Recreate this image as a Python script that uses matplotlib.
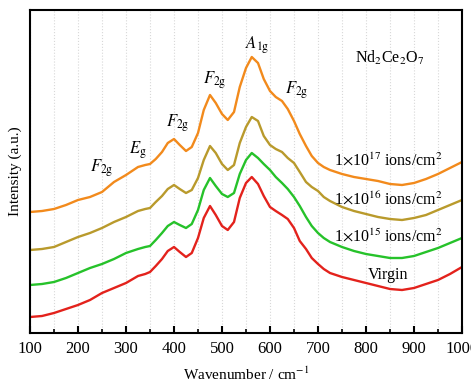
import matplotlib
matplotlib.use('Agg')
import matplotlib.pyplot as plt
from matplotlib.ticker import MultipleLocator

plt.rcParams['font.family'] = 'Liberation Serif'
plt.rcParams['mathtext.fontset'] = 'stix'

# Raman shift (cm-1) and intensities (arbitrary units)
wavenumber = [100, 125, 150, 175, 200, 225, 250, 275, 300, 325,
              340, 350, 362, 375, 387, 400, 412, 425, 437, 450,
              462, 475, 487, 500, 512, 525, 537, 550, 562, 575,
              587, 600, 612, 625, 637, 650, 662, 675, 687, 700,
              712, 725, 750, 775, 800, 825, 850, 875, 900, 925,
              950, 975, 1000]

virgin = [16, 17, 20, 24, 28, 33, 40, 45, 50, 57,
          59, 61, 67, 74, 82, 86, 81, 76, 80, 95,
          115, 127, 118, 107, 103, 111, 135, 150, 156, 149,
          137, 126, 122, 118, 114, 105, 92, 84, 75, 69,
          64, 60, 56, 53, 50, 47, 44, 43, 45, 49,
          53, 59, 66]
e15 = [48, 49, 51, 55, 60, 65, 69, 74, 80, 84,
       86, 87, 93, 100, 107, 111, 108, 105, 109, 123,
       143, 155, 147, 139, 136, 140, 159, 173, 180, 175,
       169, 163, 156, 150, 144, 136, 127, 116, 107, 100,
       95, 91, 86, 82, 79, 77, 75, 75, 77, 81,
       85, 90, 95]
e16 = [83, 84, 86, 91, 96, 100, 105, 111, 116, 122,
       124, 125, 131, 137, 144, 148, 144, 140, 143, 155,
       173, 187, 180, 169, 163, 168, 190, 206, 216, 212,
       197, 188, 184, 181, 175, 170, 161, 151, 146, 142,
       136, 132, 126, 122, 119, 116, 114, 113, 115, 118,
       123, 128, 133]
e17 = [121, 122, 124, 128, 133, 136, 141, 151, 158, 166,
       168, 169, 174, 181, 190, 194, 188, 182, 186, 200,
       223, 238, 230, 219, 213, 221, 246, 265, 276, 270,
       254, 242, 236, 232, 224, 212, 199, 187, 177, 170,
       166, 163, 159, 156, 154, 152, 149, 148, 150, 154,
       159, 165, 171]

series = [virgin, e15, e16, e17]
colors = ['#e3221c', '#26c22a', '#b99a2c', '#f28a1c']
labels = ['Virgin', r'1$\times$10$^{15}$ ions/cm$^{2}$',
          r'1$\times$10$^{16}$ ions/cm$^{2}$', r'1$\times$10$^{17}$ ions/cm$^{2}$']
label_y = [58, 96, 133, 172]

peak_text = [r'$F_{\rm 2g}$', r'$E_{\rm g}$', r'$F_{\rm 2g}$', r'$F_{\rm 2g}$',
             r'$A_{\rm 1g}$', r'$F_{\rm 2g}$']
peak_x = [250, 325, 408, 485, 573, 656]
peak_y = [165, 183, 210, 253, 288, 243]

fig = plt.figure(figsize=(4.71, 3.83), dpi=100)
ax = fig.add_axes([30 / 471, 50 / 383, 432 / 471, 323 / 383])

for y, c in zip(series, colors):
    ax.plot(wavenumber, y, color=c, linewidth=1.7, solid_joinstyle='round')

ax.set_xlim(100, 1000)
ax.set_ylim(0, 323)
ax.xaxis.set_major_locator(MultipleLocator(100))
ax.xaxis.set_minor_locator(MultipleLocator(50))
ax.set_yticks([])
ax.tick_params(axis='x', which='major', direction='in', length=5, width=1.5,
               labelsize=12, pad=6)
ax.tick_params(axis='x', which='minor', direction='in', length=3, width=1.2)
ax.grid(True, axis='x', which='both', color='#d8d8d8', linestyle=':', linewidth=0.8)
for s in ax.spines.values():
    s.set_linewidth(1.5)

for txt, ly in zip(labels, label_y):
    ax.text(846, ly, txt, fontsize=11.5, ha='center', va='center')

for t, x, y in zip(peak_text, peak_x, peak_y):
    ax.text(x, y, t, fontsize=12, ha='center', va='center')

ax.text(850, 275, r'Nd$_2$Ce$_2$O$_7$', fontsize=11.5, ha='center', va='center')

ax.set_xlabel(r'Wavenumber / cm$^{-1}$', fontsize=11, labelpad=6)
ax.set_ylabel('Intensity (a.u.)', fontsize=11, labelpad=6)

fig.savefig('out.png', dpi=100)
